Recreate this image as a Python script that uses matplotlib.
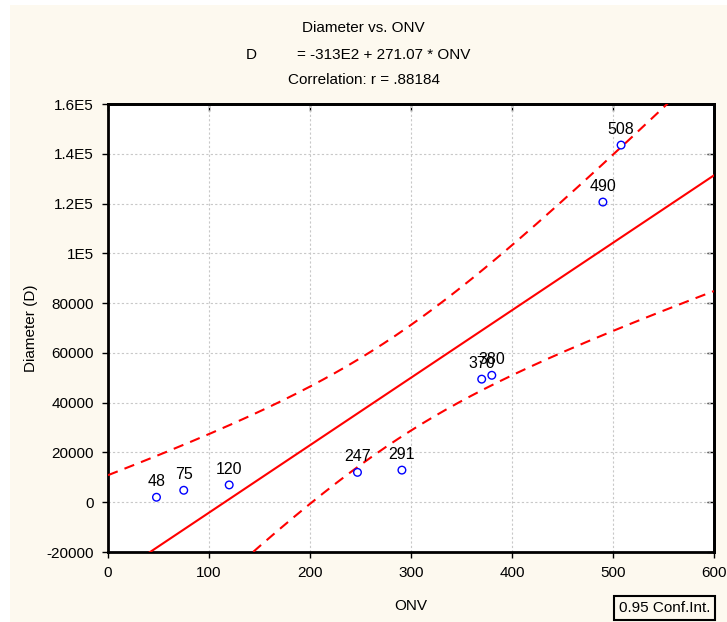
import numpy as np
import matplotlib
matplotlib.use('Agg')
import matplotlib.pyplot as plt
from matplotlib.patches import Rectangle

plt.rcParams['font.family'] = ['Liberation Sans', 'DejaVu Sans']

# ONV vs diameter observations
onv = [48, 75, 120, 247, 291, 370, 380, 490, 508]
diameter = [2000, 4800, 6950, 12000, 12900, 49450, 51000, 120600, 143500]

# fitted line as reported
intercept = -31300
slope = 271.07
t_crit = 2.3646  # t(0.975, df=7)

x_ticks = [0, 100, 200, 300, 400, 500, 600]
y_ticks = [-20000, 0, 20000, 40000, 60000, 80000, 100000, 120000, 140000, 160000]
y_labels = ['-20000', '0', '20000', '40000', '60000', '80000', '1E5', '1.2E5', '1.4E5', '1.6E5']

cream = '#fdf9ef'

fig = plt.figure(figsize=(7.27, 6.22), dpi=100)
fig.patch.set_facecolor('white')
fig.patches.append(Rectangle((10 / 727, 0), 1, 1 - 5 / 622, transform=fig.transFigure,
                             facecolor=cream, edgecolor='none', zorder=-10))

ax = fig.add_axes([108 / 727, 70 / 622, 606 / 727, 448 / 622])
ax.set_facecolor('white')

x = np.array(onv, dtype=float)
y = np.array(diameter, dtype=float)
n = len(x)
resid = y - (intercept + slope * x)
s = np.sqrt(np.sum(resid ** 2) / (n - 2))
sxx = np.sum((x - x.mean()) ** 2)

xs = np.linspace(0, 600, 300)
fit = intercept + slope * xs
half = t_crit * s * np.sqrt(1 / n + (xs - x.mean()) ** 2 / sxx)

ax.plot(xs, fit, color='red', lw=1.5, zorder=3)
ax.plot(xs, fit + half, color='red', lw=1.5, ls=(0, (5, 3.5)), zorder=3)
ax.plot(xs, fit - half, color='red', lw=1.5, ls=(0, (5, 3.5)), zorder=3)

ax.scatter(x, y, s=30, facecolors='none', edgecolors='#0000ff', linewidths=1.0, zorder=4)
for xi, yi in zip(onv, diameter):
    ax.annotate(str(xi), (xi, yi), xytext=(0, 8), textcoords='offset points',
                ha='center', va='baseline', fontsize=11.5, color='black', zorder=5)

ax.set_xlim(0, 600)
ax.set_ylim(-20000, 160000)
ax.set_xticks(x_ticks)
ax.set_yticks(y_ticks)
ax.set_yticklabels(y_labels)
ax.grid(True, color='#c8c8c8', ls=(0, (2, 2)), lw=0.8)
ax.set_axisbelow(True)
ax.tick_params(direction='out', length=4, width=1, labelsize=11, pad=6)

for sp in ax.spines.values():
    sp.set_linewidth(2)

top = ax.secondary_xaxis('top')
top.set_xticks(x_ticks)
top.tick_params(direction='in', length=5, width=1, labeltop=False)
top.spines['top'].set_linewidth(2)
right = ax.secondary_yaxis('right')
right.set_yticks(y_ticks)
right.tick_params(direction='in', length=5, width=1, labelright=False)
right.spines['right'].set_linewidth(2)

ax.set_xlabel('ONV', fontsize=11, labelpad=14)
ax.set_ylabel('Diameter (D)', fontsize=11, labelpad=6)

fig.text(0.5, 1 - 28 / 622, 'Diameter vs. ONV', ha='center', va='center', fontsize=11)
fig.text(246 / 727, 1 - 55 / 622, 'D', ha='left', va='center', fontsize=11)
fig.text(297 / 727, 1 - 55 / 622, '= -313E2 + 271.07 * ONV', ha='left', va='center', fontsize=11)
fig.text(0.5, 1 - 80 / 622, 'Correlation: r = .88184', ha='center', va='center', fontsize=11)

fig.text(619 / 727, 1 - 608 / 622, '0.95 Conf.Int.', ha='left', va='center', fontsize=11,
         bbox=dict(boxstyle='square,pad=0.3', facecolor=cream, edgecolor='black', lw=1.5))

fig.savefig('out.png', dpi=100, facecolor=fig.get_facecolor())
